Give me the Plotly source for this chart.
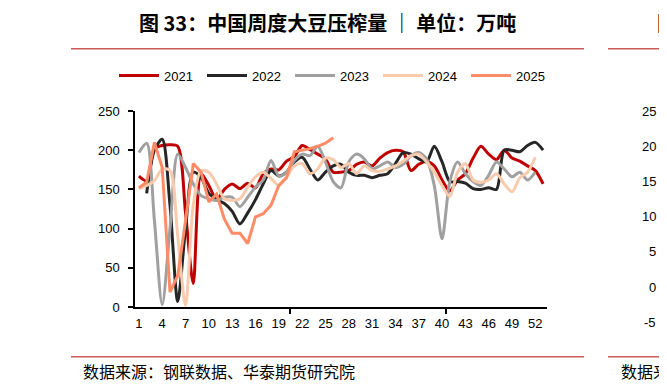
import plotly.graph_objects as go

weeks = list(range(1, 54))

y2021 = [167, 161, 202, 206, 207, 205, 120, 30, 170, 155, 137, 150, 157, 151, 158, 152, 170, 176, 175, 186,
         192, 206, 201, 195, 189, 172, 172, 174, 182, 185, 180, 190, 197, 200, 198, 174, 182, 186, 180, 162,
         148, 162, 170, 190, 205, 195, 188, 200, 190, 186, 180, 174, 157]
y2022 = [None, 145, 200, 214, 130, 7, 100, 172, 165, 145, 137, 132, 122, 106, 120, 137, 157, 174, 167, 172,
         185, 191, 176, 162, 172, 180, 182, 172, 168, 168, 165, 168, 170, 183, 197, 195, 189, 185, 205, 185,
         160, 160, 158, 151, 150, 152, 150, 200, 200, 198, 206, 210, 200]
y2023 = [197, 209, 110, 3, 100, 195, 178, 157, 142, 138, 136, 140, 140, 128, 140, 153, 162, 187, 167, 172,
         187, 195, 193, 205, 185, 160, 152, 185, 195, 189, 176, 180, 185, 178, 182, 193, 197, 189, 155, 87,
         160, 185, 170, 160, 155, 168, 185, 176, 166, 172, 162, 172]
y2024 = [151, 155, 161, 176, 174, 90, 2, 130, 174, 172, 157, 138, 136, 138, 153, 166, 172, 164, 155, 166,
         180, 183, 170, 176, 190, 188, 178, 183, 170, 180, 174, 173, 176, 180, 186, 193, 195, 185, 172, 155,
         141, 172, 183, 162, 159, 162, 170, 157, 147, 165, 172, 191]
y2025 = [152, 159, 210, 178, 19, 40, 110, 183, 172, 134, 144, 112, 94, 94, 81, 115, 119, 130, 155, 165,
         198, 200, 202, 205, 209, 216]

x_ticks = list(range(1, 53, 3))
y_ticks = [0, 50, 100, 150, 200, 250]

series = [
    ("2021", y2021, "#C00000", "spline"),
    ("2022", y2022, "#262626", "spline"),
    ("2023", y2023, "#A0A0A0", "spline"),
    ("2024", y2024, "#F8CBAD", "spline"),
    ("2025", y2025, "#FF8C66", "linear"),
]

# page body has an 8px margin: the figure is drawn from (8, 8)
OFF = 8
W, H = 667 - OFF, 390 - OFF
L, R, T, B = 135, 547, 110.5, 307  # plot area in reference pixels


def fx(px):
    return (px - L) / (R - L)


def fy(py):
    return (B - py) / (B - T)


fig = go.Figure()
for name, vals, color, shape in series:
    fig.add_trace(go.Scatter(
        x=weeks[:len(vals)], y=vals, name=name, mode="lines",
        line=dict(color=color, width=3, shape=shape, smoothing=0.8),
        connectgaps=False,
    ))

fig.update_layout(
    width=W, height=H,
    margin=dict(l=L - OFF, r=667 - R, t=T - OFF, b=390 - B, pad=0),
    paper_bgcolor="white", plot_bgcolor="white",
    font=dict(family="Liberation Sans, Arial, sans-serif", size=13, color="#000000"),
    showlegend=True,
    legend=dict(orientation="h", x=fx(114), y=fy(75), xanchor="left", yanchor="middle",
                font=dict(size=13), itemwidth=40, entrywidth=33, entrywidthmode="pixels",
                bgcolor="rgba(0,0,0,0)", tracegroupgap=0),
    xaxis=dict(range=[0.5, 53.5], tickmode="array", tickvals=x_ticks,
               ticktext=[str(v) for v in x_ticks], ticks="", showgrid=False, zeroline=False,
               showline=True, linecolor="#000000", linewidth=1.5,
               tickfont=dict(size=13), ticklabelstandoff=4,
               minor=dict(tickmode="array", tickvals=[20.5, 40.5], ticks="outside",
                          ticklen=5, tickcolor="#000000", tickwidth=1.5, showgrid=False)),
    yaxis=dict(range=[0, 250], tickmode="array", tickvals=y_ticks, ticks="outside",
               ticklen=5, tickcolor="#000000", tickwidth=1.5, showgrid=False, zeroline=False,
               showline=True, linecolor="#000000", linewidth=1.5, tickfont=dict(size=13),
               ticklabelstandoff=6),
)

red_rule = "#CC5A5A"
shapes = []
for py in (48, 357):
    shapes.append(dict(type="line", xref="paper", yref="paper", x0=fx(71), x1=fx(584),
                       y0=fy(py), y1=fy(py), line=dict(color=red_rule, width=1.5)))
    shapes.append(dict(type="line", xref="paper", yref="paper", x0=fx(608), x1=fx(670),
                       y0=fy(py), y1=fy(py), line=dict(color=red_rule, width=1.5)))
shapes.append(dict(type="line", xref="paper", yref="paper", x0=fx(662), x1=fx(670),
                   y0=fy(75), y1=fy(75), line=dict(color="#C00000", width=3)))
fig.update_layout(shapes=shapes)

ann = [
    dict(text="<b>图 33：中国周度大豆压榨量 ｜ 单位：万吨</b>", x=fx(327), y=fy(22),
         font=dict(family="Noto Sans CJK SC", size=20, color="#000000")),
    dict(text="数据来源：钢联数据、华泰期货研究院", x=fx(81), y=fy(371), xanchor="left",
         font=dict(family="Noto Sans CJK SC", size=16, color="#000000")),
    dict(text="<b>图</b>", x=fx(655), y=fy(22), xanchor="left",
         font=dict(family="Noto Sans CJK SC", size=20, color="#000000")),
    dict(text="数据来", x=fx(619), y=fy(371), xanchor="left",
         font=dict(family="Noto Sans CJK SC", size=16, color="#000000")),
]
for lbl, py in [("25", 111), ("20", 146), ("15", 181), ("10", 216), ("5", 251), ("0", 287), ("-5", 323)]:
    ann.append(dict(text=lbl, x=fx(658), y=fy(py), xanchor="right",
                    font=dict(size=13, color="#000000")))
for a in ann:
    a.update(xref="paper", yref="paper", showarrow=False, yanchor="middle")
    a.setdefault("xanchor", "center")
fig.update_layout(annotations=ann)

fig.write_html("out.html")
